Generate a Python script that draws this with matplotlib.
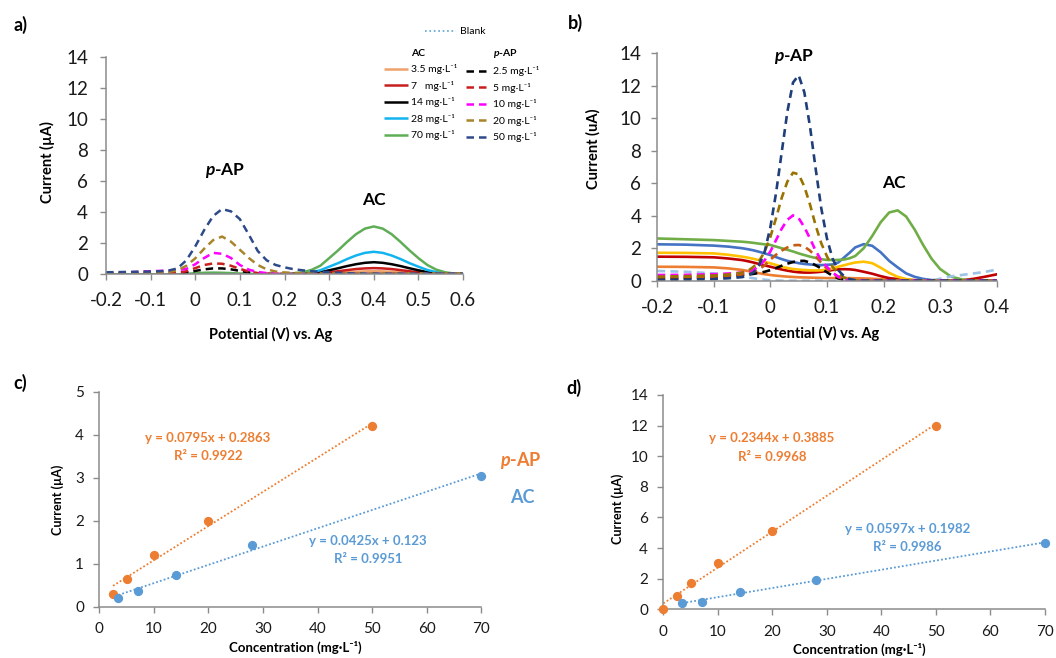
import numpy as np
import matplotlib.pyplot as plt
from matplotlib.lines import Line2D
from matplotlib.ticker import FuncFormatter

plt.rcParams['font.family'] = ['Lato', 'DejaVu Sans']
plt.rcParams['axes.unicode_minus'] = False
plt.rcParams['mathtext.fontset'] = 'custom'
plt.rcParams['mathtext.it'] = 'Lato:italic:bold'
plt.rcParams['mathtext.rm'] = 'Lato:bold'
plt.rcParams['mathtext.bf'] = 'Lato:bold'

# ---- panel a : DPV, sweep -0.2 .. 0.6 V ----
pot_a = [-0.2, -0.18, -0.16, -0.14, -0.12, -0.1, -0.08, -0.06, -0.04, -0.02,
         0.0, 0.02, 0.04, 0.06, 0.08, 0.1, 0.12, 0.14, 0.16, 0.18,
         0.2, 0.22, 0.24, 0.26, 0.28, 0.3, 0.32, 0.34, 0.36, 0.38,
         0.4, 0.42, 0.44, 0.46, 0.48, 0.5, 0.52, 0.54, 0.56, 0.58, 0.6]

ac_a_35 = [0.0] * 24 + [0.04, 0.07, 0.1, 0.14, 0.17, 0.19, 0.2, 0.19, 0.17, 0.14, 0.1, 0.07, 0.04, 0.02, 0.01, 0.0, 0.0]
ac_a_7 = [0.0] * 23 + [0.04, 0.07, 0.13, 0.2, 0.27, 0.34, 0.38, 0.4, 0.38, 0.34, 0.27, 0.2, 0.13, 0.07, 0.04, 0.02, 0.01, 0.0]
ac_a_14 = [0.0] * 23 + [0.07, 0.14, 0.26, 0.39, 0.53, 0.65, 0.74, 0.78, 0.74, 0.65, 0.53, 0.39, 0.26, 0.14, 0.07, 0.03, 0.01, 0.0]
ac_a_28 = [0.0] * 21 + [0.03, 0.06, 0.13, 0.26, 0.49, 0.72, 0.98, 1.21, 1.38, 1.45, 1.38, 1.21, 0.98, 0.72, 0.49, 0.28, 0.14, 0.06, 0.02, 0.01]
ac_a_70 = [0.0] * 9 + [0.03, 0.07, 0.1, 0.11, 0.1, 0.08, 0.05, 0.03, 0.02, 0.02, 0.02, 0.02, 0.06, 0.13, 0.28, 0.55,
                       1.04, 1.54, 2.08, 2.58, 2.94, 3.08, 2.94, 2.58, 2.08, 1.54, 1.04, 0.6, 0.3, 0.13, 0.05, 0.02]

pap_a_25 = [0.03] * 8 + [0.05, 0.12, 0.22, 0.32, 0.38, 0.38, 0.32, 0.22, 0.12, 0.06, 0.03, 0.02] + [0.02] * 21
pap_a_5 = [0.05] * 8 + [0.08, 0.2, 0.4, 0.6, 0.7, 0.68, 0.55, 0.35, 0.18, 0.08, 0.04, 0.02] + [0.02] * 21
pap_a_10 = [0.05, 0.07, 0.1, 0.14, 0.18, 0.2, 0.22, 0.24, 0.26, 0.35,
            0.65, 1.05, 1.38, 1.32, 1.05, 0.6, 0.3, 0.15, 0.08, 0.05] + [0.03] * 21
pap_a_20 = [0.1, 0.1, 0.1, 0.11, 0.11, 0.12, 0.12, 0.15, 0.25, 0.55,
            1.03, 1.65, 2.2, 2.43, 2.1, 1.58, 1.05, 0.6, 0.32, 0.18,
            0.12, 0.09, 0.07] + [0.06] * 18
pap_a_50 = [0.13, 0.14, 0.15, 0.16, 0.17, 0.18, 0.2, 0.24, 0.38, 0.9,
            1.8, 2.85, 3.75, 4.2, 4.05, 3.55, 2.55, 1.5, 0.9, 0.6,
            0.45, 0.33, 0.26, 0.2, 0.17, 0.14, 0.1, 0.07, 0.05, 0.04] + [0.04] * 11
blank_a = [0.01] * 41

ac_labels = ['3.5 mg·L⁻¹', '7   mg·L⁻¹', '14 mg·L⁻¹', '28 mg·L⁻¹', '70 mg·L⁻¹']
pap_labels = ['2.5 mg·L⁻¹', '5 mg·L⁻¹', '10 mg·L⁻¹', '20 mg·L⁻¹', '50 mg·L⁻¹']
ac_colors_a = ['#EFA26C', '#C81E1E', '#000000', '#12B4F0', '#5FAE57']
pap_colors_a = ['#000000', '#C81E1E', '#FF00FF', '#A8842A', '#2E4A8A']

# ---- panel b : sweep -0.2 .. 0.4 V ----
pot_b = [-0.2, -0.15, -0.1, -0.075, -0.05,
         -0.04, -0.03, -0.02, -0.01, 0.0, 0.01, 0.02, 0.03, 0.04, 0.05,
         0.06, 0.07, 0.08, 0.09, 0.1, 0.11, 0.12, 0.13, 0.14, 0.15,
         0.165, 0.18, 0.195, 0.21, 0.225, 0.24, 0.255, 0.27, 0.285, 0.3,
         0.32, 0.34, 0.36, 0.38, 0.4]

b_green = [2.6, 2.55, 2.5, 2.45, 2.4,
           2.37, 2.33, 2.28, 2.24, 2.2, 2.1, 2.0, 1.9, 1.8, 1.68, 1.58, 1.48, 1.4, 1.32, 1.28, 1.27, 1.28, 1.3, 1.38, 1.52,
           2.0, 2.75, 3.6, 4.2, 4.33, 3.95, 3.15, 2.2, 1.35, 0.72,
           0.24, 0.07, 0.01, 0.0, 0.0]
b_blue = [2.24, 2.22, 2.16, 2.1, 2.0,
          1.94, 1.87, 1.78, 1.68, 1.58, 1.45, 1.33, 1.22, 1.15, 1.08, 1.03, 1.0, 0.97, 0.96, 0.98, 1.0, 1.12, 1.42, 1.72, 2.05,
          2.25, 2.15, 1.75, 1.22, 0.82, 0.45, 0.24, 0.11, 0.04, 0.01,
          0.0, 0.0, 0.0, 0.0, 0.0]
b_gold = [1.72, 1.71, 1.68, 1.6, 1.48,
          1.42, 1.35, 1.26, 1.16, 1.07, 0.97, 0.86, 0.78, 0.72, 0.68, 0.66, 0.64, 0.63, 0.64, 0.68, 0.76, 0.86, 0.95, 1.04, 1.12,
          1.17, 1.08, 0.8, 0.48, 0.24, 0.1, 0.03, 0.0, 0.0, 0.0,
          0.0, 0.0, 0.0, 0.0, 0.0]
b_red = [1.48, 1.47, 1.44, 1.37, 1.27,
         1.2, 1.12, 1.03, 0.94, 0.86, 0.77, 0.69, 0.62, 0.56, 0.52, 0.5, 0.5, 0.52, 0.55, 0.6, 0.66, 0.7, 0.71, 0.7, 0.66,
         0.55, 0.43, 0.28, 0.16, 0.1, 0.06, 0.03, 0.01, 0.0, 0.0,
         0.0, 0.03, 0.12, 0.25, 0.39]
b_orange = [0.86, 0.85, 0.82, 0.76, 0.66,
            0.6, 0.53, 0.46, 0.4, 0.35, 0.31, 0.28, 0.25, 0.23, 0.21, 0.2, 0.19, 0.18, 0.17, 0.16, 0.16, 0.16, 0.16, 0.16, 0.15,
            0.14, 0.12, 0.09, 0.06, 0.03, 0.01, 0.0, 0.0, 0.0, 0.0,
            0.0, 0.0, 0.0, 0.0, 0.0]
b_blank = [0.6, 0.55, 0.45, 0.35, 0.25,
           0.2, 0.15, 0.1, 0.06, 0.03, 0.01] + [0.0] * 14 + [0.0] * 8 + [0.02, 0.12, 0.27, 0.36, 0.45, 0.55, 0.68]
b_pap_50 = [0.05, 0.06, 0.1, 0.15, 0.22,
            0.33, 0.5, 0.95, 1.8, 3.3, 5.4, 7.9, 10.4, 12.2, 12.65, 11.6, 9.5, 6.9, 4.45, 2.6, 1.35, 0.65, 0.28, 0.1, 0.03] + [0.0] * 15
b_pap_20 = [0.25, 0.28, 0.32, 0.38, 0.5,
            0.6, 0.85, 1.2, 1.8, 2.7, 3.85, 5.1, 6.1, 6.65, 6.55, 5.8, 4.7, 3.4, 2.3, 1.5, 0.85, 0.45, 0.2, 0.08, 0.02] + [0.0] * 15
b_pap_10 = [0.35, 0.36, 0.4, 0.44, 0.5,
            0.55, 0.67, 0.9, 1.27, 1.8, 2.5, 3.2, 3.75, 4.02, 3.85, 3.3, 2.6, 1.85, 1.25, 0.85, 0.5, 0.25, 0.1, 0.03, 0.0] + [0.0] * 15
b_pap_5 = [0.2, 0.22, 0.25, 0.3, 0.38,
           0.45, 0.55, 0.7, 0.95, 1.3, 1.6, 1.85, 2.05, 2.18, 2.2, 2.1, 1.85, 1.5, 1.1, 0.75, 0.45, 0.22, 0.1, 0.03, 0.0] + [0.0] * 15
b_pap_25 = [0.1, 0.15, 0.22, 0.28, 0.35,
            0.38, 0.42, 0.48, 0.55, 0.65, 0.78, 0.92, 1.05, 1.15, 1.22, 1.22, 1.12, 0.95, 0.75, 0.52, 0.3, 0.14, 0.05, 0.01, 0.0] + [0.0] * 15

# ---- panels c, d : calibration ----
conc_pap_c = [2.5, 5, 10, 20, 50]
curr_pap_c = [0.3, 0.65, 1.2, 2.0, 4.2]
conc_ac_c = [3.5, 7, 14, 28, 70]
curr_ac_c = [0.2, 0.37, 0.74, 1.43, 3.05]
fit_pap_c = (0.0795, 0.2863)
fit_ac_c = (0.0425, 0.123)
eq_c = ['y = 0.0795x + 0.2863', 'R² = 0.9922', 'y = 0.0425x + 0.123', 'R² = 0.9951']

conc_pap_d = [0, 2.5, 5, 10, 20, 50]
curr_pap_d = [0.0, 0.9, 1.75, 3.05, 5.1, 12.0]
conc_ac_d = [3.5, 7, 14, 28, 70]
curr_ac_d = [0.4, 0.5, 1.1, 1.9, 4.35]
fit_pap_d = (0.2344, 0.3885)
fit_ac_d = (0.0597, 0.1982)
eq_d = ['y = 0.2344x + 0.3885', 'R² = 0.9968', 'y = 0.0597x + 0.1982', 'R² = 0.9986']

ORANGE = '#ED7D31'
BLUE = '#5B9BD5'
AXC = '#8C8C8C'
fmt = FuncFormatter(lambda v, p: f'{round(v, 2) + 0.0:g}')


def style(ax, size, xpad, ypad):
    for s in ['top', 'right']:
        ax.spines[s].set_visible(False)
    for s in ['left', 'bottom']:
        ax.spines[s].set_color(AXC)
        ax.spines[s].set_linewidth(1.1)
    ax.tick_params(color=AXC, labelcolor='#1a1a1a', labelsize=size, length=4, width=1)
    ax.tick_params(axis='x', pad=xpad)
    ax.tick_params(axis='y', pad=ypad)
    ax.xaxis.set_major_formatter(fmt)


fig = plt.figure(figsize=(10.56, 6.58), dpi=100)

# ---------------- a ----------------
axa = fig.add_axes([0.1004, 0.5831, 0.3381, 0.3307])
ac_lines = []
for ys, c in zip([ac_a_35, ac_a_7, ac_a_14, ac_a_28, ac_a_70], ac_colors_a):
    ln, = axa.plot(pot_a, ys, color=c, lw=1.8, solid_capstyle='butt')
    ac_lines.append(ln)
blank_ln, = axa.plot(pot_a, blank_a, color='#5BA3D0', lw=1.2, ls=':')
pap_lines = []
for ys, c in zip([pap_a_25, pap_a_5, pap_a_10, pap_a_20, pap_a_50], pap_colors_a):
    ln, = axa.plot(pot_a, ys, color=c, lw=1.8, dashes=(3, 2))
    pap_lines.append(ln)
axa.set_xlim(-0.2, 0.6)
axa.set_ylim(0, 14)
axa.set_xticks(np.round(np.arange(-0.2, 0.61, 0.1), 1))
axa.set_yticks(range(0, 15, 2))
style(axa, 13.5, 9, 9)
axa.set_ylabel('Current (µA)', fontsize=10.5, fontweight='bold')
axa.yaxis.set_label_coords(-0.142, 0.516)
axa.set_xlabel('Potential (V) vs. Ag', fontsize=10.5, fontweight='bold')
axa.xaxis.set_label_coords(0.46, -0.24)
axa.text(0.068, 6.66, '$p$-AP', fontsize=12.5, fontweight='bold', ha='center', va='center')
axa.text(0.4, 4.79, 'AC', fontsize=12.5, fontweight='bold', ha='center', va='center')

hdr = Line2D([], [], linestyle='none')
leg = fig.legend([hdr] + ac_lines + [hdr] + pap_lines,
                 ['AC'] + ac_labels + ['$p$-AP'] + pap_labels,
                 ncol=2, loc='upper left', bbox_to_anchor=(384 / 1056, 1 - 47 / 658),
                 frameon=False, fontsize=7.5, handlelength=2.3, handletextpad=0.3,
                 columnspacing=0.8, labelspacing=0.62, borderpad=0, borderaxespad=0)
for i in (0, 6):
    leg.get_texts()[i].set_fontweight('bold')
fig.legend([blank_ln], ['Blank'], loc='upper left', bbox_to_anchor=(425 / 1056, 1 - 27 / 658),
           frameon=False, fontsize=7.5, handlelength=3.0, handletextpad=0.4, borderpad=0, borderaxespad=0)
fig.text(20 / 1056, 1 - 25 / 658, 'a)', fontsize=13, fontweight='bold', ha='center', va='center')

# ---------------- b ----------------
axb = fig.add_axes([0.6224, 0.5734, 0.3214, 0.3456])
for ys, c in zip([b_orange, b_red, b_gold, b_blue, b_green],
                 ['#ED7D31', '#C00000', '#FFC000', '#4472C4', '#70AD47']):
    axb.plot(pot_b, ys, color=c, lw=1.9)
for ys, c in zip([b_blank, b_pap_25, b_pap_5, b_pap_10, b_pap_20, b_pap_50],
                 ['#9DC3E6', '#000000', '#C55A11', '#FF00FF', '#997300', '#203F7A']):
    axb.plot(pot_b, ys, color=c, lw=1.9, dashes=(3, 2))
axb.set_xlim(-0.2, 0.4)
axb.set_ylim(0, 14)
axb.set_xticks(np.round(np.arange(-0.2, 0.41, 0.1), 1))
axb.set_yticks(range(0, 15, 2))
style(axb, 13.5, 9, 7.5)
axb.set_ylabel('Current (uA)', fontsize=10.5, fontweight='bold')
axb.yaxis.set_label_coords(-0.166, 0.58)
axb.set_xlabel('Potential (V) vs. Ag', fontsize=10.5, fontweight='bold')
axb.xaxis.set_label_coords(0.473, -0.2)
axb.text(0.0415, 13.8, '$p$-AP', fontsize=12.5, fontweight='bold', ha='center', va='center', clip_on=False)
axb.text(0.218, 6.0, 'AC', fontsize=12.5, fontweight='bold', ha='center', va='center')
fig.text(575 / 1056, 1 - 23 / 658, 'b)', fontsize=13, fontweight='bold', ha='center', va='center')


# ---------------- c, d ----------------
def calib(ax, cp, ip, ca, ia, fp, fa, ymax, eqs, eqpos):
    xp = np.array([min(cp), max(cp)])
    xa = np.array([min(ca), max(ca)])
    ax.plot(xp, fp[0] * xp + fp[1], color=ORANGE, lw=1.3, ls=(0, (1, 1.2)))
    ax.plot(xa, fa[0] * xa + fa[1], color=BLUE, lw=1.3, ls=(0, (1, 1.2)))
    ax.scatter(cp, ip, s=32, color=ORANGE, zorder=3, clip_on=False)
    ax.scatter(ca, ia, s=32, color=BLUE, zorder=3, clip_on=False)
    ax.set_xlim(0, 70)
    ax.set_ylim(0, ymax)
    ax.set_xticks(range(0, 71, 10))
    style(ax, 11, 7, 7)
    for t, (x, y), c in zip(eqs, eqpos, [ORANGE, ORANGE, BLUE, BLUE]):
        ax.text(x, y, t, color=c, fontsize=9.5, fontweight='bold', ha='center', va='center')


axc = fig.add_axes([0.0941, 0.0780, 0.3615, 0.3267])
calib(axc, conc_pap_c, curr_pap_c, conc_ac_c, curr_ac_c, fit_pap_c, fit_ac_c, 5, eq_c,
      [(19.9, 3.93), (19.9, 3.5), (49.3, 1.53), (49.3, 1.1)])
axc.set_yticks(range(0, 6))
axc.set_ylabel('Current (µA)', fontsize=9, fontweight='bold')
axc.yaxis.set_label_coords(-0.093, 0.496)
axc.set_xlabel('Concentration (mg·L⁻¹)', fontsize=9.5, fontweight='bold')
axc.xaxis.set_label_coords(0.513, -0.16)
axc.text(77.3, 3.39, '$p$-AP', color=ORANGE, fontsize=13, fontweight='bold', ha='center', va='center', clip_on=False)
axc.text(77.5, 2.55, 'AC', color=BLUE, fontsize=13, fontweight='bold', ha='center', va='center', clip_on=False)
fig.text(20 / 1056, 1 - 383 / 658, 'c)', fontsize=13, fontweight='bold', ha='center', va='center')

axd = fig.add_axes([0.6282, 0.0740, 0.3614, 0.3257])
calib(axd, conc_pap_d, curr_pap_d, conc_ac_d, curr_ac_d, fit_pap_d, fit_ac_d, 14, eq_d,
      [(19.9, 11.17), (19.9, 9.97), (44.8, 5.26), (44.8, 4.09)])
axd.set_yticks(range(0, 15, 2))
axd.set_ylabel('Current (µA)', fontsize=9, fontweight='bold')
axd.yaxis.set_label_coords(-0.103, 0.47)
axd.set_xlabel('Concentration (mg·L⁻¹)', fontsize=9.5, fontweight='bold')
axd.xaxis.set_label_coords(0.513, -0.155)
fig.text(574 / 1056, 1 - 388 / 658, 'd)', fontsize=13, fontweight='bold', ha='center', va='center')

fig.savefig('out.png', dpi=100)
